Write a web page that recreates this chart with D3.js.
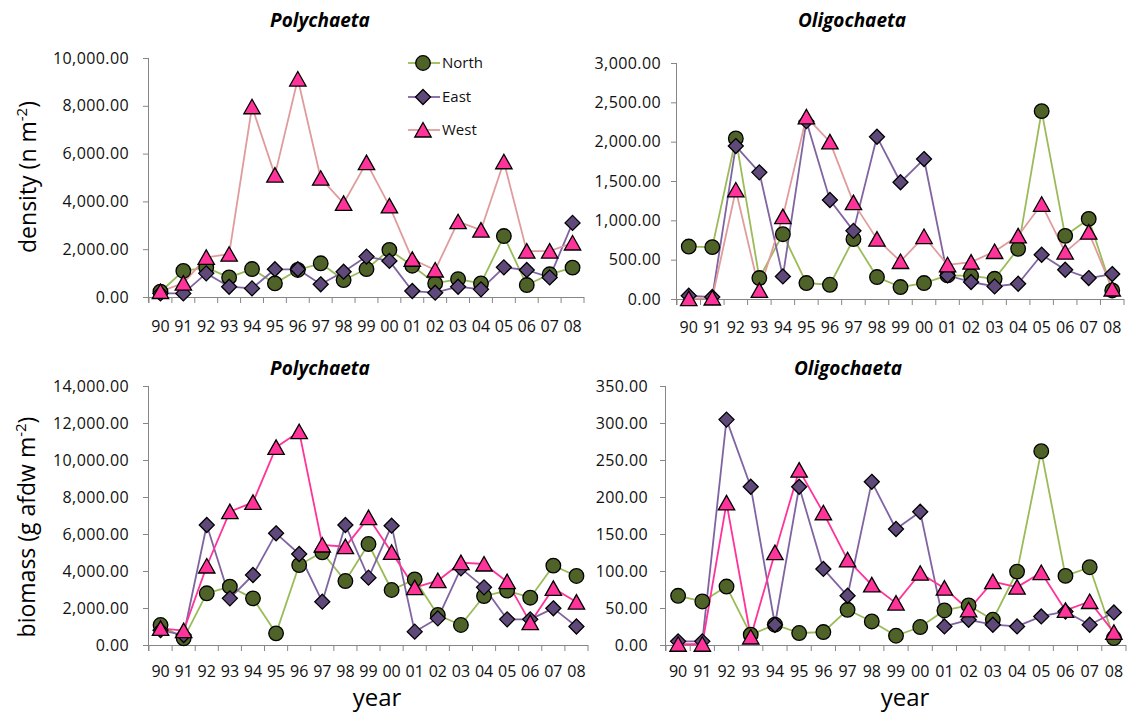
<!DOCTYPE html>
<html>
<head>
<meta charset="utf-8">
<script src="https://cdn.jsdelivr.net/npm/d3@7"></script>
<style>
  html, body { margin: 0; padding: 0; background: #fff; }
  svg { display: block; font-family: "Open Sans", "Noto Sans", sans-serif; }
</style>
</head>
<body>
<svg id="chart" width="1129" height="715"></svg>
<script>
// ---------- data ----------
const years = ["90","91","92","93","94","95","96","97","98","99","00","01","02","03","04","05","06","07","08"];
const seriesNames = ["North", "East", "West"];

const densityPolyNorth = [220, 1090, 1230, 820, 1170, 570, 1130, 1410, 710, 1170, 1970, 1310, 570, 750, 570, 2550, 500, 950, 1230];
const densityPolyEast  = [150, 150, 990, 430, 360, 1160, 1160, 530, 1060, 1690, 1510, 250, 180, 430, 320, 1240, 1130, 820, 3100];
const densityPolyWest  = [230, 580, 1660, 1790, 7960, 5100, 9120, 4970, 3920, 5620, 3810, 1580, 1130, 3150, 2800, 5660, 1920, 1920, 2260];

const densityOligoNorth = [667, 659, 2041, 266, 824, 203, 181, 761, 279, 152, 203, 300, 295, 257, 638, 2388, 803, 1018, 109];
const densityOligoEast  = [42, 25, 1944, 1610, 287, 2261, 1259, 866, 2062, 1484, 1779, 300, 216, 160, 194, 562, 372, 266, 317];
const densityOligoWest  = [5, 13, 1386, 109, 1047, 2315, 1998, 1225, 761, 477, 794, 435, 469, 604, 803, 1204, 596, 850, 127];

const biomassPolyNorth = [1081, 360, 2794, 3153, 2522, 630, 4324, 5009, 3459, 5459, 2973, 3549, 1621, 1081, 2648, 2937, 2558, 4288, 3730];
const biomassPolyEast  = [800, 540, 6486, 2522, 3784, 6036, 4919, 2342, 6486, 3640, 6450, 721, 1441, 4144, 3117, 1387, 1387, 1982, 1000];
const biomassPolyWest  = [901, 775, 4270, 7207, 7712, 10685, 11530, 5405, 5315, 6883, 5009, 3100, 3477, 4450, 4378, 3423, 1207, 3063, 2320];

const biomassOligoNorth = [66.5, 58.8, 79, 13.9, 27.4, 16.2, 17.5, 47.6, 31.8, 12.5, 24.3, 46.7, 53.4, 34.1, 99.2, 261.9, 93.4, 105.1, 9.4];
const biomassOligoEast  = [4.9, 4.9, 304.6, 213.8, 27.4, 213.8, 102.8, 66.5, 220.5, 156.8, 180.1, 25.1, 34.1, 27.4, 25.1, 38.6, 45.3, 27.4, 44];
const biomassOligoWest  = [1, 1, 192, 10.8, 124.8, 236.3, 178.7, 115, 81.3, 56.6, 97, 76.8, 47.6, 85.7, 78.2, 97.9, 46.7, 58.8, 17];

const yTicksDensityPoly  = [0, 2000, 4000, 6000, 8000, 10000];
const yTicksDensityOligo = [0, 500, 1000, 1500, 2000, 2500, 3000];
const yTicksBiomassPoly  = [0, 2000, 4000, 6000, 8000, 10000, 12000, 14000];
const yTicksBiomassOligo = [0, 50, 100, 150, 200, 250, 300, 350];

// ---------- styles ----------
const axisColor = "#868686";
const lineColors = { North: "#9BBB59", East: "#8064A2" };
const westLineTop = "#E09C9C";
const westLineBottom = "#FF3399";
const markerFill = { North: "#4F6228", East: "#5F497A", West: "#FF3399" };

const panels = [
  { title: "Polychaeta",  tx: 320, ty: 27,  x0: 149, x1: 584,  yb: 297, yt: 58,  ticks: yTicksDensityPoly,
    lab: 20, xlab: 332, data: [densityPolyNorth, densityPolyEast, densityPolyWest], west: westLineTop, legend: true },
  { title: "Oligochaeta", tx: 852, ty: 27,  x0: 677, x1: 1124, yb: 299, yt: 63,  ticks: yTicksDensityOligo,
    lab: 16, xlab: 333, data: [densityOligoNorth, densityOligoEast, densityOligoWest], west: westLineTop },
  { title: "Polychaeta",  tx: 320, ty: 375, x0: 149, x1: 588,  yb: 645, yt: 386, ticks: yTicksBiomassPoly,
    lab: 20, xlab: 677, data: [biomassPolyNorth, biomassPolyEast, biomassPolyWest], west: westLineBottom },
  { title: "Oligochaeta", tx: 848, ty: 375, x0: 666, x1: 1126, yb: 645, yt: 386, ticks: yTicksBiomassOligo,
    lab: 18, xlab: 677, data: [biomassOligoNorth, biomassOligoEast, biomassOligoWest], west: westLineBottom }
];

const svg = d3.select("#chart");
const fmt = d3.format(",.2f");

function markerPath(name) {
  if (name === "North") return d3.symbol().type(d3.symbolCircle).size(Math.PI * 7.3 * 7.3)();
  if (name === "East") return "M0,-7.5L7.5,0L0,7.5L-7.5,0Z";
  return "M0,-7.5L8.2,7L-8.2,7Z";
}

panels.forEach(p => {
  const g = svg.append("g");
  const x = d3.scaleBand().domain(years).range([p.x0, p.x1]).padding(0);
  const y = d3.scaleLinear().domain([0, d3.max(p.ticks)]).range([p.yb, p.yt]);
  const cx = d => x(d) + x.bandwidth() / 2;

  // y axis
  const ya = g.append("g").attr("transform", `translate(${p.x0},0)`)
    .call(d3.axisLeft(y).tickValues(p.ticks).tickFormat(fmt).tickSize(6).tickPadding(p.lab - 6));
  ya.select(".domain").attr("stroke", axisColor).attr("d", `M-0.5,${p.yt}V${p.yb + 6}`);
  ya.selectAll(".tick line").attr("stroke", axisColor);
  ya.selectAll(".tick text").attr("fill", "#111").style("font-size", "16px")
    .style("font-family", '"Open Sans", sans-serif').style("letter-spacing", "0.4px");

  // x axis
  const xa = g.append("g").attr("transform", `translate(0,${p.yb})`)
    .call(d3.axisBottom(x).tickSize(0).tickPadding(0));
  xa.select(".domain").attr("stroke", axisColor).attr("d", `M${p.x0},0.5H${p.x1}`);
  xa.selectAll(".tick text").attr("fill", "#111").style("font-size", "16px")
    .style("font-family", '"Open Sans", sans-serif')
    .attr("dy", null).attr("y", p.xlab - p.yb);
  g.append("g").selectAll("line").data(years.concat(["end"])).join("line")
    .attr("x1", (d, i) => i < years.length ? x(d) : p.x1)
    .attr("x2", (d, i) => i < years.length ? x(d) : p.x1)
    .attr("y1", p.yb).attr("y2", p.yb + 6)
    .attr("stroke", axisColor).attr("stroke-width", 1);

  // lines
  seriesNames.forEach((name, si) => {
    const line = d3.line().x((d, i) => cx(years[i])).y(d => y(d));
    g.append("path").datum(p.data[si]).attr("d", line)
      .attr("fill", "none")
      .attr("stroke", name === "West" ? p.west : lineColors[name])
      .attr("stroke-width", 1.8).attr("stroke-linejoin", "round");
  });
  // markers
  seriesNames.forEach((name, si) => {
    g.append("g").selectAll("path").data(p.data[si]).join("path")
      .attr("transform", (d, i) => `translate(${cx(years[i])},${y(d)})`)
      .attr("d", markerPath(name))
      .attr("fill", markerFill[name]).attr("stroke", "#000").attr("stroke-width", 1.3);
  });

  // title
  g.append("text").attr("x", p.tx).attr("y", p.ty).attr("text-anchor", "middle")
    .style("font-size", "19px").style("font-weight", "bold").style("font-style", "italic")
    .attr("fill", "#000").text(p.title);

  // legend
  if (p.legend) {
    const ly = [63, 97, 130];
    seriesNames.forEach((name, si) => {
      const lg = g.append("g").attr("transform", `translate(0,${ly[si]})`);
      lg.append("line").attr("x1", 408).attr("x2", 440).attr("y1", 0).attr("y2", 0)
        .attr("stroke", name === "West" ? p.west : lineColors[name]).attr("stroke-width", 1.8);
      lg.append("path").attr("transform", "translate(423,0)").attr("d", markerPath(name))
        .attr("fill", markerFill[name]).attr("stroke", "#000").attr("stroke-width", 1.3);
      lg.append("text").attr("x", 442).attr("y", 0).attr("dy", "0.35em")
        .style("font-size", "15px").attr("fill", "#111").text(name);
    });
  }
});

// axis titles
function yTitle(xp, yp, main) {
  const t = svg.append("text").attr("transform", `translate(${xp},${yp}) rotate(-90)`)
    .attr("text-anchor", "middle").style("font-size", "23px").attr("fill", "#000");
  t.append("tspan").text(main);
  t.append("tspan").attr("dy", -9).style("font-size", "15px").text("-2");
  t.append("tspan").attr("dy", 9).text(")");
}
yTitle(36, 177, "density (n m");
yTitle(35, 527, "biomass (g afdw m");

svg.append("text").attr("x", 377).attr("y", 706).attr("text-anchor", "middle")
  .style("font-size", "24px").attr("fill", "#000").text("year");
svg.append("text").attr("x", 905).attr("y", 706).attr("text-anchor", "middle")
  .style("font-size", "24px").attr("fill", "#000").text("year");
</script>
</body>
</html>
